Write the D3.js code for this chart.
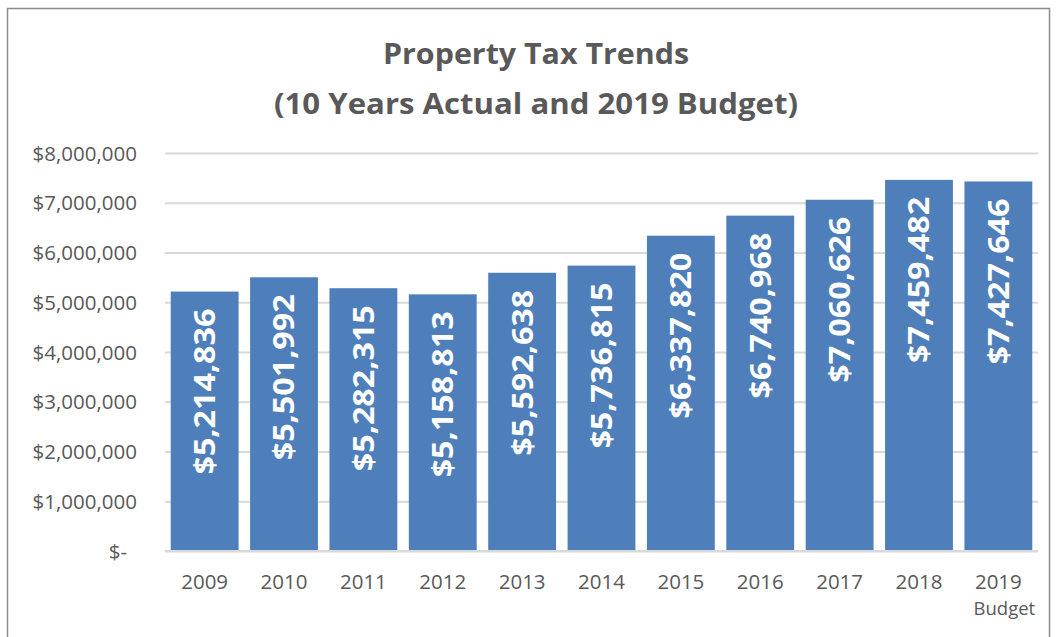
<!DOCTYPE html>
<html><head><meta charset="utf-8">
<script src="https://cdn.jsdelivr.net/npm/d3@7"></script>
<style>html,body{margin:0;padding:0;background:#fff;}</style>
</head><body>
<svg id="chart" width="1057" height="637"></svg>
<script>
const categories = ["2009","2010","2011","2012","2013","2014","2015","2016","2017","2018","2019"];
const subLabels = ["","","","","","","","","","","Budget"];
const values = [5214836,5501992,5282315,5158813,5592638,5736815,6337820,6740968,7060626,7459482,7427646];
const yTicks = [0,1000000,2000000,3000000,4000000,5000000,6000000,7000000,8000000];
const titleLines = ["Property Tax Trends","(10 Years Actual and 2019 Budget)"];

const svg = d3.select("#chart");
const m = {left:165, right:1038, top:153, bottom:551};
const font = "'Open Sans', sans-serif";
const txt = "#595959";

svg.append("rect").attr("x",7.5).attr("y",8.5).attr("width",1042).attr("height",640)
  .attr("fill","#fff").attr("stroke","#8c8c8c").attr("stroke-width",1.5);

const x = d3.scaleBand().domain(categories).range([m.left,m.right]).paddingInner(0.145).paddingOuter(0.072);
const y = d3.scaleLinear().domain([0,8000000]).range([m.bottom,m.top]);

// gridlines
const yAxis = d3.axisLeft(y).tickValues(yTicks).tickSize(-(m.right-m.left)).tickPadding(28)
  .tickFormat(d => d===0 ? "$-" : "$" + d3.format(",")(d));
const gy = svg.append("g").attr("transform",`translate(${m.left},0)`).call(yAxis);
gy.select(".domain").remove();
gy.selectAll(".tick line").attr("stroke","#d9d9d9").attr("stroke-width",2);
gy.selectAll(".tick text").attr("fill",txt).style("font-family",font).style("font-size","20.5px").attr("dy","0.35em");
gy.selectAll(".tick text").filter(d=>d===0).attr("x",-38);

// bars
svg.append("g").selectAll("rect").data(values).join("rect")
  .attr("x",(d,i)=>x(categories[i])).attr("width",x.bandwidth())
  .attr("y",d=>y(d)).attr("height",d=>y(0)-y(d)).attr("fill","#4f7fbb");

// bar labels
svg.append("g").selectAll("text").data(values).join("text")
  .attr("transform",(d,i)=>`translate(${x(categories[i])+x.bandwidth()/2},${y(d)+17}) rotate(-90)`)
  .attr("text-anchor","end").attr("dy","0.36em")
  .attr("textLength",166).attr("lengthAdjust","spacingAndGlyphs")
  .attr("fill","#fff").style("font-family",font).style("font-weight","bold").style("font-size","29px")
  .text(d=>"$"+d3.format(",")(d));

// x axis
const xAxis = d3.axisBottom(x).tickSize(0).tickPadding(23);
const gx = svg.append("g").attr("transform",`translate(0,${m.bottom})`).call(xAxis);
gx.select(".domain").attr("stroke","#d9d9d9").attr("stroke-width",2)
  .attr("d",`M${m.left},0H${m.right}`);
gx.selectAll(".tick text").attr("fill",txt).style("font-family",font).style("font-size","20.5px");
gx.selectAll(".tick").append("text").attr("y",64).attr("x",(d,i)=>i===10?6:0).attr("fill",txt)
  .style("font-family",font).style("font-size","18.5px").attr("text-anchor","middle")
  .text((d,i)=>subLabels[i]);

// title
svg.append("g").selectAll("text").data(titleLines).join("text")
  .attr("x",536).attr("y",(d,i)=>64+i*50).attr("text-anchor","middle")
  .attr("fill",txt).style("font-family",font).style("font-weight","bold").style("font-size","29px")
  .attr("textLength",(d,i)=>i===0?306:524).attr("lengthAdjust","spacingAndGlyphs")
  .text(d=>d);
</script>
</body></html>
